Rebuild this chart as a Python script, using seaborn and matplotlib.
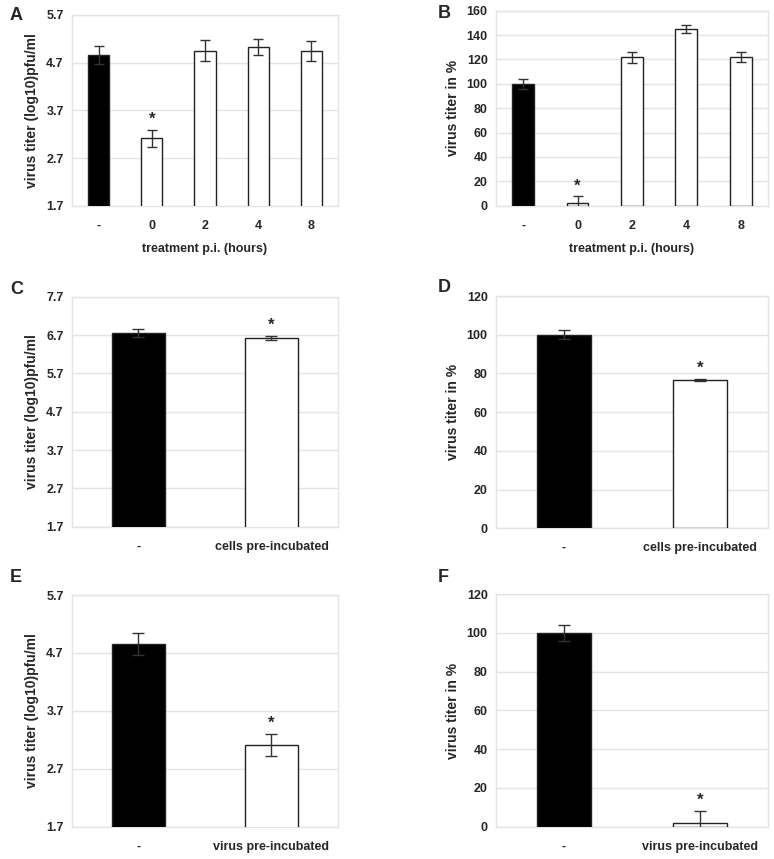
import numpy as np
import pandas as pd
import matplotlib.pyplot as plt
import seaborn as sns

sns.set_theme(style="white")
plt.rcParams["font.family"] = ["Liberation Sans", "DejaVu Sans"]
plt.rcParams["font.weight"] = "bold"

# ---------------------------------------------------------------------------
# Data
# ---------------------------------------------------------------------------
hours = ["-", "0", "2", "4", "8"]
a_titer = [4.86, 3.12, 4.95, 5.03, 4.95]
a_err = [0.19, 0.18, 0.22, 0.16, 0.21]
b_pct = [100, 2, 122, 145, 122]
b_err = [4, 5.7, 4.5, 3.6, 4]

cells_groups = ["-", "cells pre-incubated"]
c_titer = [6.76, 6.62]
c_err = [0.11, 0.06]
d_pct = [100, 76.6]
d_err = [2.2, 0.6]

virus_groups = ["-", "virus pre-incubated"]
e_titer = [4.85, 3.11]
e_err = [0.19, 0.19]
f_pct = [100, 2]
f_err = [4, 6.2]

log_ticks_a = [1.7, 2.7, 3.7, 4.7, 5.7]
log_ticks_c = [1.7, 2.7, 3.7, 4.7, 5.7, 6.7, 7.7]
pct_ticks_b = [0, 20, 40, 60, 80, 100, 120, 140, 160]
pct_ticks_d = [0, 20, 40, 60, 80, 100, 120]

# which bars carry a significance star
stars_a = [False, True, False, False, False]
stars_2 = [False, True]

LOG_LABEL = "virus titer (log10)pfu/ml"
PCT_LABEL = "virus titer in %"
GRID = "#e4e4e4"


def bar_panel(ax, cats, vals, errs, stars, ticks, ylabel, xlabel=None, cap=3.5):
    df = pd.DataFrame({"group": cats, "value": vals})
    colors = ["black"] + ["white"] * (len(cats) - 1)
    sns.barplot(data=df, x="group", y="value", hue="group", palette=colors,
                legend=False, width=0.4, edgecolor="#222222", linewidth=1,
                ax=ax, zorder=3)
    pos = np.arange(len(cats))
    ax.errorbar(pos, vals, yerr=errs, fmt="none", ecolor="#333333",
                elinewidth=1, capsize=cap, capthick=1, zorder=4)
    for p, v, e, s in zip(pos, vals, errs, stars):
        if s:
            ax.annotate("*", (p, v + e), xytext=(0, 2), textcoords="offset points",
                        ha="center", va="bottom", fontsize=12, fontweight="bold")
    ax.set_ylim(ticks[0], ticks[-1])
    ax.set_yticks(ticks)
    ax.set_yticklabels([f"{t:g}" for t in ticks], fontsize=9, fontweight="bold")
    ax.set_xlim(-0.5, len(cats) - 0.5)
    ax.set_xticks(pos)
    ax.set_xticklabels(cats, fontsize=9, fontweight="bold")
    ax.set_xticks(np.arange(len(cats) + 1) - 0.5, minor=True)
    ax.tick_params(axis="x", which="major", length=0, pad=10)
    ax.tick_params(axis="x", which="minor", length=4, color=GRID, width=1)
    ax.tick_params(axis="y", length=3, color=GRID, width=1, pad=3)
    ax.yaxis.grid(True, color=GRID, linewidth=1, zorder=0)
    ax.set_axisbelow(True)
    for sp in ax.spines.values():
        sp.set_color(GRID)
        sp.set_linewidth(1)
    ax.set_ylabel(ylabel, fontsize=10, fontweight="bold", labelpad=5)
    ax.set_xlabel(xlabel if xlabel else "", fontsize=9, fontweight="bold", labelpad=8)


fig = plt.figure(figsize=(7.74, 8.59), dpi=100)
axA = fig.add_axes([0.093, 0.7602, 0.3437, 0.2224])
axB = fig.add_axes([0.6408, 0.7605, 0.3514, 0.2270])
axC = fig.add_axes([0.093, 0.3868, 0.3437, 0.2678])
axD = fig.add_axes([0.6408, 0.3850, 0.3514, 0.2704])
axE = fig.add_axes([0.093, 0.0376, 0.3437, 0.2697])
axF = fig.add_axes([0.6408, 0.0376, 0.3514, 0.2706])

bar_panel(axA, hours, a_titer, a_err, stars_a, log_ticks_a, LOG_LABEL,
          "treatment p.i. (hours)", cap=3.5)
bar_panel(axB, hours, b_pct, b_err, stars_a, pct_ticks_b, PCT_LABEL,
          "treatment p.i. (hours)", cap=3.5)
bar_panel(axC, cells_groups, c_titer, c_err, stars_2, log_ticks_c, LOG_LABEL, cap=4)
bar_panel(axD, cells_groups, d_pct, d_err, stars_2, pct_ticks_d, PCT_LABEL, cap=4)
bar_panel(axE, virus_groups, e_titer, e_err, stars_2, log_ticks_a, LOG_LABEL, cap=4)
bar_panel(axF, virus_groups, f_pct, f_err, stars_2, pct_ticks_d, PCT_LABEL, cap=4)

# panel letters
for letter, (x, y) in {"A": (10, 15), "B": (438, 14), "C": (10, 289),
                       "D": (438, 288), "E": (10, 577), "F": (438, 577)}.items():
    fig.text(x / 774, 1 - y / 859, letter, fontsize=13, fontweight="bold",
             va="center", ha="left")

fig.savefig("out.png", dpi=100)
